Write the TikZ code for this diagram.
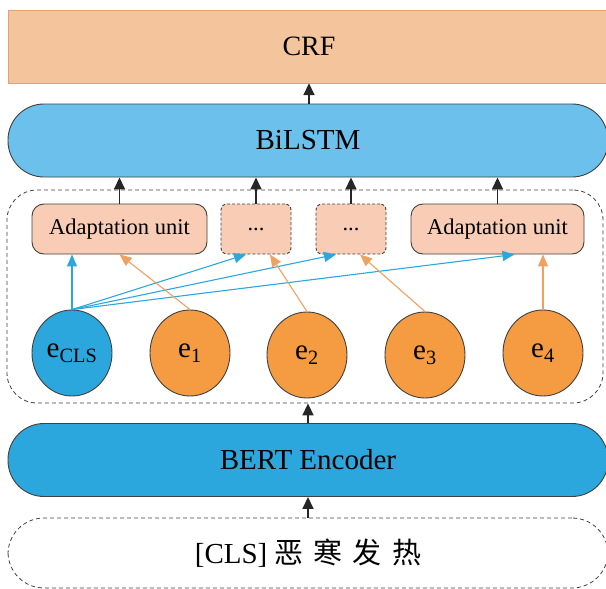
\documentclass[tikz,border=0pt]{standalone}
\usepackage{fontspec}
\setmainfont{Liberation Serif}
\newfontfamily\cjk{Noto Sans CJK SC}
\usetikzlibrary{arrows.meta,shapes.geometric}
\definecolor{crffill}{HTML}{F4C49C}
\definecolor{crfline}{HTML}{E9A06C}
\definecolor{lstmfill}{HTML}{6CC1EC}
\definecolor{bertfill}{HTML}{2CA7DE}
\definecolor{unitfill}{HTML}{F9CDB5}
\definecolor{embfill}{HTML}{F59B42}
\definecolor{embline}{HTML}{F0A060}

\begin{document}
\begin{tikzpicture}[x=1pt,y=-1pt,
    layer/.style={draw=black!75,line width=0.9pt,rounded corners=36pt,minimum width=600pt,minimum height=73pt,font=\fontsize{29}{32}\selectfont},
    unit/.style={draw=black!75,line width=0.9pt,fill=unitfill,rounded corners=12pt,minimum height=50pt,font=\fontsize{22.5}{26}\selectfont},
    dotsbox/.style={unit,rounded corners=6pt,minimum width=70pt,dash pattern=on 3pt off 2pt},
    emb/.style={ellipse,draw=black!75,line width=0.9pt,fill=embfill,inner sep=0pt,minimum width=80pt,minimum height=86pt,font=\fontsize{29}{32}\selectfont},
    up/.style={-{Triangle[width=11pt,length=12pt]},line width=1.6pt,black!85},
    blue arr/.style={-{Triangle[width=10pt,length=12pt]},line width=1.1pt,bertfill},
    orange arr/.style={-{Triangle[width=10pt,length=12pt]},line width=1.1pt,embline}]
    \useasboundingbox (0,0) rectangle (606,589);
    \clip (0,0) rectangle (606,589);

    \node[draw=crfline,fill=crffill,minimum width=602pt,minimum height=73pt,font=\fontsize{28}{32}\selectfont] (crf) at (309,46.5) {CRF};
    \node[layer,fill=lstmfill] (bilstm) at (308,140.5) {BiLSTM};

    \node[draw=black!75,line width=0.8pt,dash pattern=on 4pt off 3pt,rounded corners=30pt,minimum width=596pt,minimum height=213pt] (adapt) at (305,296.5) {};

    \node[unit,minimum width=175pt] (au1) at (119.5,229) {Adaptation unit};
    \node[dotsbox] (dots1) at (256,229) {...};
    \node[dotsbox] (dots2) at (351,229) {...};
    \node[unit,minimum width=173pt] (au2) at (497.5,229) {Adaptation unit};

    \node[emb,fill=bertfill] (ecls) at (72,353) {e\textsubscript{CLS}};
    \node[emb] (e1) at (190,353) {e\textsubscript{1}};
    \node[emb] (e2) at (307,355) {e\textsubscript{2}};
    \node[emb] (e3) at (425,355) {e\textsubscript{3}};
    \node[emb] (e4) at (543,353) {e\textsubscript{4}};

    \node[layer,fill=bertfill] (bert) at (308,460) {BERT Encoder};
    \node[layer,line width=0.8pt,dash pattern=on 4pt off 3pt,minimum height=70pt] (input) at (308,553) {[CLS] {\cjk 恶\hspace{0.35em}寒\hspace{0.35em}发\hspace{0.35em}热}};

    \draw[up] (bilstm.north -| crf.south) -- (crf.south);
    \draw[up] (au1.north) -- (au1.north |- bilstm.south);
    \draw[up] (dots1.north) -- (dots1.north |- bilstm.south);
    \draw[up] (dots2.north) -- (dots2.north |- bilstm.south);
    \draw[up] (au2.north) -- (au2.north |- bilstm.south);
    \draw[up] (bert.north) -- (bert.north |- adapt.south);
    \draw[up] (input.north) -- (bert.south);

    \draw[blue arr] (ecls.north) -- (au1.south -| ecls.north);
    \draw[blue arr] (ecls.north) -- ([xshift=-10pt]dots1.south);
    \draw[blue arr] (ecls.north) -- ([xshift=-15pt]dots2.south);
    \draw[blue arr] (ecls.north) -- ([xshift=17pt]au2.south);

    \draw[orange arr] (e1.north) -- (au1.south);
    \draw[orange arr] (e2.north) -- ([xshift=14pt]dots1.south);
    \draw[orange arr] (e3.north) -- ([xshift=9pt]dots2.south);
    \draw[orange arr] (e4.north) -- (au2.south -| e4.north);
\end{tikzpicture}
\end{document}
